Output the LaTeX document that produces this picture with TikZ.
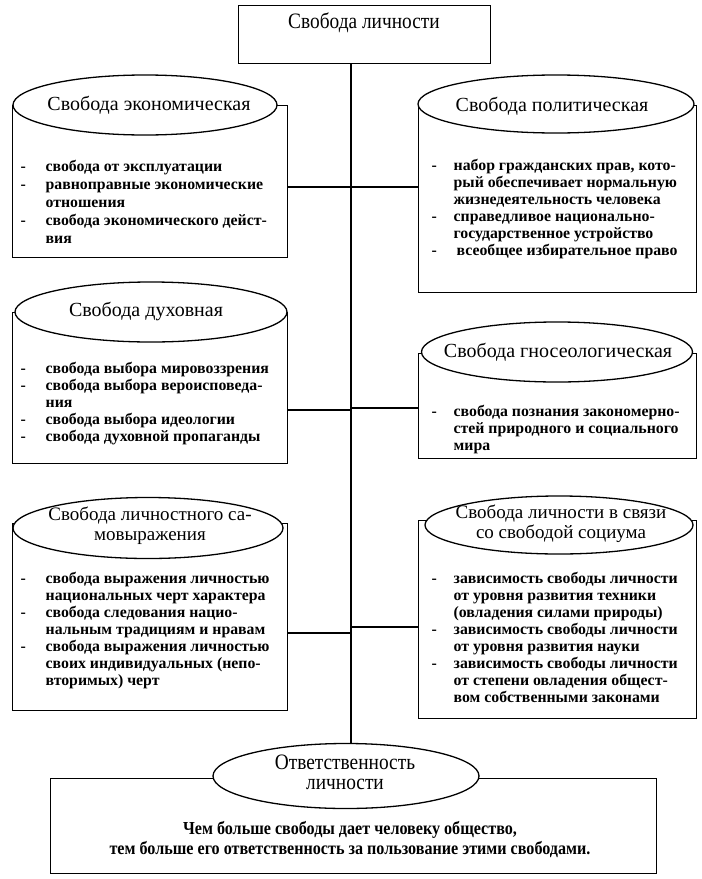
\documentclass[tikz,border=0pt]{standalone}
\usepackage{fontspec}
\setmainfont{Liberation Serif}
\newfontfamily\condfont[FakeStretch=0.88]{Liberation Serif}
\usetikzlibrary{shapes.geometric}
\newcommand\dashL{\makebox[25bp][l]{-}}
\newcommand\contL{\hspace*{25bp}}
\newcommand\dashR{\makebox[22bp][l]{-}}
\newcommand\contR{\hspace*{22bp}}
\begin{document}
\begin{tikzpicture}[x=1bp,y=-1bp,line width=1.3bp,
  bodybox/.style={draw,rectangle,inner sep=0,anchor=north west},
  capell/.style={draw,fill=white,ellipse,inner sep=0},
  captext/.style={inner sep=0,align=center,font=\fontsize{20bp}{21bp}\selectfont},
  captwo/.style={inner sep=0,align=center,font=\fontsize{19bp}{20bp}\selectfont},
  items/.style={inner sep=0,anchor=north west,align=left,
    font=\bfseries\fontsize{15.8bp}{17bp}\selectfont},
  link/.style={draw,line width=1.3bp}]
\useasboundingbox[fill=white] (0,0) rectangle (702,879);
\coordinate (sp) at (351,0);
% top box
\node[bodybox,minimum width=252bp,minimum height=58bp] (top) at (238,5) {};
\node[inner sep=0,font=\condfont\fontsize{22bp}{24bp}\selectfont] (toptxt) at (364,23) {Свобода личности};
% bodies
\node[bodybox,minimum width=275bp,minimum height=152bp] (econb) at (12,105) {};
\node[bodybox,minimum width=278bp,minimum height=187bp] (polb) at (418,105) {};
\node[bodybox,minimum width=275bp,minimum height=151bp] (duhb) at (12,312) {};
\node[bodybox,minimum width=278bp,minimum height=105bp] (gnosb) at (418,353) {};
\node[bodybox,minimum width=275bp,minimum height=187bp] (lichb) at (12,523) {};
\node[bodybox,minimum width=278bp,minimum height=198bp] (socb) at (418,520) {};
\node[bodybox,minimum width=606bp,minimum height=95bp] (respb) at (50,778) {};
% caps
\node[capell,minimum width=264bp,minimum height=60bp] (econ) at (145,105) {};
\node[capell,minimum width=276bp,minimum height=58bp] (pol) at (556,104) {};
\node[capell,minimum width=272bp,minimum height=60bp] (duh) at (151,312) {};
\node[capell,minimum width=271bp,minimum height=60bp] (gnos) at (557,352) {};
\node[capell,minimum width=270bp,minimum height=61bp] (lich) at (148,528) {};
\node[capell,minimum width=268bp,minimum height=58bp] (soc) at (559,525) {};
\node[capell,minimum width=266bp,minimum height=65bp] (resp) at (346,776) {};
\node[captext] (econtitle) at (149,105) {Свобода экономическая};
\node[captext] (poltitle) at (552,106) {Свобода политическая};
\node[captext] (duhtitle) at (146,311) {Свобода духовная};
\node[captext] (gnostitle) at (558,352) {Свобода гносеологическая};
\node[captwo] (lichtitle) at (150,526) {Свобода личностного са-\\мовыражения};
\node[captwo] (soctitle) at (561,524) {Свобода личности в связи\\со свободой социума};
\node[inner sep=0,align=center,font=\condfont\fontsize{22bp}{20bp}\selectfont] (resptitle) at (345,772) {Ответственность\\личности};
% item texts
\node[items,font=\bfseries\fontsize{15.8bp}{18bp}\selectfont] (econt) at (20,158.4) {\strut\dashL свобода от эксплуатации\\
\dashL равноправные экономические\\
\contL отношения\\
\dashL свобода экономического дейст-\\
\contL вия};
\node[items] (polt) at (431,158.1) {\strut\dashR набор гражданских прав, кото-\\
\contR рый обеспечивает нормальную\\
\contR жизнедеятельность человека\\
\dashR справедливое национально-\\
\contR государственное устройство\\
\dashR\hspace*{3bp}всеобщее избирательное право};
\node[items] (duht) at (20,361.1) {\strut\dashL свобода выбора мировоззрения\\
\dashL свобода выбора вероисповеда-\\
\contL ния\\
\dashL свобода выбора идеологии\\
\dashL свобода духовной пропаганды};
\node[items] (gnost) at (431,404.1) {\strut\dashR свобода познания закономерно-\\
\contR стей природного и социального\\
\contR мира};
\node[items] (licht) at (20,571.1) {\strut\dashL свобода выражения личностью\\
\contL национальных черт характера\\
\dashL свобода следования нацио-\\
\contL нальным традициям и нравам\\
\dashL свобода выражения личностью\\
\contL своих индивидуальных (непо-\\
\contL вторимых) черт};
\node[items] (soct) at (431,571.1) {\strut\dashR зависимость свободы личности\\
\contR от уровня развития техники\\
\contR (овладения силами природы)\\
\dashR зависимость свободы личности\\
\contR от уровня развития науки\\
\dashR зависимость свободы личности\\
\contR от степени овладения общест-\\
\contR вом собственными законами};
\node[inner sep=0,align=center,font=\condfont\bfseries\fontsize{18.3bp}{20bp}\selectfont] (respt) at (350,840)
  {Чем больше свободы дает человеку общество,\\тем больше его ответственность за пользование этими свободами.};
% connectors
\draw[link] (top.south -| sp) -- (resp.north -| sp);
\coordinate (c1) at (0,187);
\coordinate (c2) at (0,410);
\coordinate (c3) at (0,408);
\coordinate (c4) at (0,633);
\coordinate (c5) at (0,627);
\draw[link] (c1 -| econb.east) -- (c1 -| polb.west);
\draw[link] (c2 -| duhb.east) -- (c2 -| sp);
\draw[link] (c3 -| sp) -- (c3 -| gnosb.west);
\draw[link] (c4 -| lichb.east) -- (c4 -| sp);
\draw[link] (c5 -| sp) -- (c5 -| socb.west);
\end{tikzpicture}
\end{document}
